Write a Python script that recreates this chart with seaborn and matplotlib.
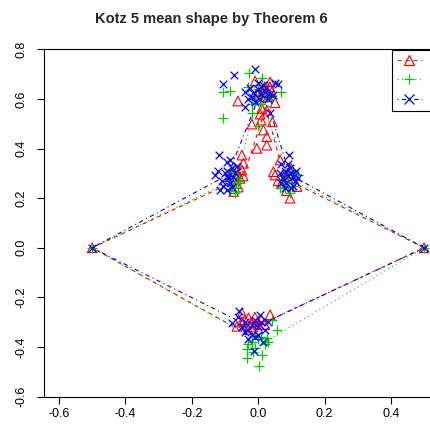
import matplotlib
matplotlib.use("Agg")
import matplotlib.pyplot as plt
from matplotlib.lines import Line2D
import seaborn as sns
import pandas as pd

# ---------------- DATA ----------------
groups = ["Sample", "Identity", "Covariance"]
colors = ["#FF0000", "#00CD00", "#0000FF"]
markers = ["^", "+", "x"]
x_ticks = [-0.6, -0.4, -0.2, 0.0, 0.2, 0.4]
y_ticks = [-0.6, -0.4, -0.2, 0.0, 0.2, 0.4, 0.6, 0.8]

# fixed base landmarks (all samples coincide)
base_pts = [(-0.5, 0.0), (0.5, 0.0)]

red_lsh = [(-0.049, 0.374), (-0.044, 0.341), (-0.049, 0.314), (-0.074, 0.227), (-0.06, 0.30),
           (-0.055, 0.28), (-0.065, 0.26), (-0.07, 0.32), (-0.045, 0.29), (-0.08, 0.27), (-0.06, 0.245)]
red_peak = [(-0.009, 0.673), (0.036, 0.669), (0.041, 0.629), (0.051, 0.585), (-0.061, 0.592),
            (0.011, 0.562), (0.026, 0.555), (0.006, 0.539), (0.009, 0.515), (0.043, 0.508),
            (-0.019, 0.499), (0.016, 0.475), (0.026, 0.448), (0.026, 0.414), (-0.004, 0.401),
            (0.015, 0.63), (0.03, 0.61), (0.0, 0.62), (0.02, 0.65), (-0.005, 0.60), (0.035, 0.65)]
red_rsh = [(0.066, 0.354), (0.046, 0.307), (0.051, 0.294), (0.096, 0.20), (0.117, 0.247), (0.08, 0.28),
           (0.07, 0.26), (0.09, 0.30), (0.06, 0.27), (0.10, 0.32), (0.085, 0.23), (0.11, 0.29)]
red_bot = [(-0.049, -0.263), (-0.029, -0.283), (0.036, -0.27), (-0.064, -0.317), (-0.02, -0.30),
           (-0.04, -0.29), (0.0, -0.31), (-0.01, -0.28), (-0.03, -0.33), (0.01, -0.29),
           (-0.05, -0.30), (-0.015, -0.32), (0.02, -0.31)]

green_lsh = [(-0.069, 0.26), (-0.064, 0.287), (-0.069, 0.22), (-0.08, 0.25), (-0.075, 0.30),
             (-0.09, 0.27), (-0.06, 0.24), (-0.085, 0.23), (-0.07, 0.31), (-0.055, 0.27)]
green_peak = [(-0.029, 0.705), (0.011, 0.683), (-0.105, 0.629), (-0.084, 0.633), (0.069, 0.629),
              (-0.019, 0.582), (-0.019, 0.542), (-0.105, 0.522), (0.001, 0.491), (0.0, 0.64),
              (0.02, 0.61), (-0.01, 0.60), (0.03, 0.62), (0.04, 0.60), (-0.03, 0.65), (0.01, 0.58)]
green_rsh = [(0.066, 0.24), (0.081, 0.24), (0.12, 0.294), (0.09, 0.26), (0.10, 0.28), (0.075, 0.27),
             (0.11, 0.25), (0.085, 0.30), (0.095, 0.22), (0.07, 0.29), (0.105, 0.31)]
green_bot = [(0.041, -0.29), (0.026, -0.363), (-0.034, -0.41), (-0.009, -0.404), (0.011, -0.431),
             (-0.034, -0.444), (0.002, -0.478), (-0.02, -0.38), (0.0, -0.37), (0.02, -0.39),
             (-0.01, -0.35), (0.01, -0.36), (-0.03, -0.39), (0.056, -0.33), (0.03, -0.38), (-0.015, -0.42)]

blue_lsh = [(-0.117, 0.374), (-0.094, 0.347), (-0.084, 0.354), (-0.13, 0.294), (-0.114, 0.233),
            (-0.094, 0.233), (-0.10, 0.30), (-0.09, 0.28), (-0.08, 0.32), (-0.11, 0.27), (-0.085, 0.26),
            (-0.07, 0.30), (-0.095, 0.31), (-0.075, 0.285), (-0.105, 0.25), (-0.065, 0.33),
            (-0.09, 0.29), (-0.08, 0.245), (-0.12, 0.31)]
blue_peak = [(-0.009, 0.723), (-0.072, 0.696), (-0.105, 0.66), (-0.039, 0.629), (0.051, 0.665),
             (0.061, 0.66), (-0.041, 0.566), (0.036, 0.542), (0.0, 0.64), (0.01, 0.62), (-0.02, 0.61),
             (0.02, 0.63), (0.03, 0.60), (-0.01, 0.59), (0.015, 0.655), (0.035, 0.62), (-0.025, 0.645),
             (0.005, 0.60), (-0.015, 0.625), (0.025, 0.645), (0.0, 0.665), (-0.03, 0.60), (0.045, 0.615)]
blue_rsh = [(0.093, 0.374), (0.07, 0.34), (0.08, 0.31), (0.09, 0.29), (0.10, 0.30), (0.11, 0.27),
            (0.085, 0.26), (0.095, 0.32), (0.075, 0.28), (0.105, 0.25), (0.115, 0.31), (0.065, 0.30),
            (0.10, 0.24), (0.08, 0.24), (0.12, 0.28), (0.09, 0.34), (0.07, 0.26), (0.105, 0.285)]
blue_bot = [(-0.059, -0.256), (0.006, -0.27), (-0.079, -0.303), (-0.04, -0.30), (-0.02, -0.31),
            (0.0, -0.32), (-0.03, -0.33), (-0.01, -0.29), (0.01, -0.30), (-0.05, -0.32), (-0.02, -0.35),
            (0.0, -0.35), (-0.03, -0.37), (0.015, -0.38), (-0.04, -0.34), (0.02, -0.33), (-0.01, -0.36),
            (0.03, -0.30), (-0.014, -0.417), (-0.06, -0.28)]

# mean shapes: L1 -> left shoulder -> peak -> right shoulder -> L2 -> bottom -> L1
red_mean = [(-0.5, 0.0), (-0.045, 0.285), (0.023, 0.565), (0.08, 0.28), (0.5, 0.0), (-0.044, -0.341), (-0.5, 0.0)]
green_mean = [(-0.5, 0.0), (-0.065, 0.28), (0.0, 0.62), (0.10, 0.275), (0.5, 0.0), (0.014, -0.385), (-0.5, 0.0)]
blue_mean = [(-0.5, 0.0), (-0.09, 0.295), (0.014, 0.65), (0.095, 0.295), (0.5, 0.0), (-0.016, -0.324), (-0.5, 0.0)]

# ---------------- BUILD TABLES ----------------
samples = {
    "Sample": base_pts + red_lsh + red_peak + red_rsh + red_bot,
    "Identity": base_pts + green_lsh + green_peak + green_rsh + green_bot,
    "Covariance": base_pts + blue_lsh + blue_peak + blue_rsh + blue_bot,
}
means = {"Sample": red_mean, "Identity": green_mean, "Covariance": blue_mean}
pts = pd.DataFrame([(g, x, y) for g in groups for x, y in samples[g]], columns=["group", "x", "y"])
mdf = pd.DataFrame([(g, i, x, y) for g in groups for i, (x, y) in enumerate(means[g])],
                   columns=["group", "order", "x", "y"])

line_styles = [(0, (3.6, 3.6)), (0, (1.0, 3.0)), (0, (1.0, 3.0, 4.0, 3.0))]
sizes = [48, 52, 30]

# ---------------- PLOT ----------------
sns.set_style("ticks")
plt.rcParams["font.family"] = ["Liberation Sans", "DejaVu Sans"]

fig = plt.figure(figsize=(4.31, 4.28), dpi=100)
ax = fig.add_axes([44 / 431, 31 / 428, 429.3 / 431, 348 / 428])

for g, c, m, s in zip(groups, colors, markers, sizes):
    sub = pts[pts["group"] == g]
    if m == "^":
        sns.scatterplot(data=sub, x="x", y="y", marker=m, s=s, facecolors="none",
                        edgecolor=c, linewidth=0.8, ax=ax, zorder=3)
    else:
        sns.scatterplot(data=sub, x="x", y="y", marker=m, s=s, color=c,
                        linewidth=0.9, ax=ax, zorder=3)

for g, c, ls in zip(groups, colors, line_styles):
    sub = mdf[mdf["group"] == g].sort_values("order")
    sns.lineplot(data=sub, x="x", y="y", sort=False, estimator=None, color=c,
                 linestyle=ls, linewidth=0.8, ax=ax, zorder=2)

ax.set_xlim(-0.645, 0.648)
ax.set_ylim(-0.602, 0.802)
ax.set_xticks(x_ticks)
ax.set_yticks(y_ticks)
ax.set_xticklabels([f"{v:.1f}" for v in x_ticks])
ax.set_yticklabels([f"{v:.1f}" for v in y_ticks], rotation=90, va="center")
ax.set_xlabel("")
ax.set_ylabel("")
ax.tick_params(direction="out", length=5, width=0.8, labelsize=9, colors="black")
ax.tick_params(axis="x", pad=3)
ax.tick_params(axis="y", pad=7)
for sp in ax.spines.values():
    sp.set_visible(True)
    sp.set_color("black")
    sp.set_linewidth(0.8)

fig.text(211.5 / 431, 1 - 19 / 428, "Kotz 5 mean shape by Theorem 6",
         ha="center", va="center", fontsize=10.5, fontweight="bold")

handles = [Line2D([], [], color=c, linestyle=ls, linewidth=0.8, marker=m, markersize=7,
                  markerfacecolor="none", markeredgewidth=0.9)
           for c, ls, m in zip(colors, line_styles, markers)]
leg = fig.legend(handles, groups, loc="upper left", bbox_to_anchor=(392 / 431, 1 - 50 / 428),
                 fontsize=9, frameon=True, fancybox=False, edgecolor="black", framealpha=1,
                 borderpad=0.4, handlelength=2.0, handletextpad=0.8, labelspacing=0.6,
                 borderaxespad=0)
leg.get_frame().set_linewidth(0.8)

fig.savefig("out.png", dpi=100)
